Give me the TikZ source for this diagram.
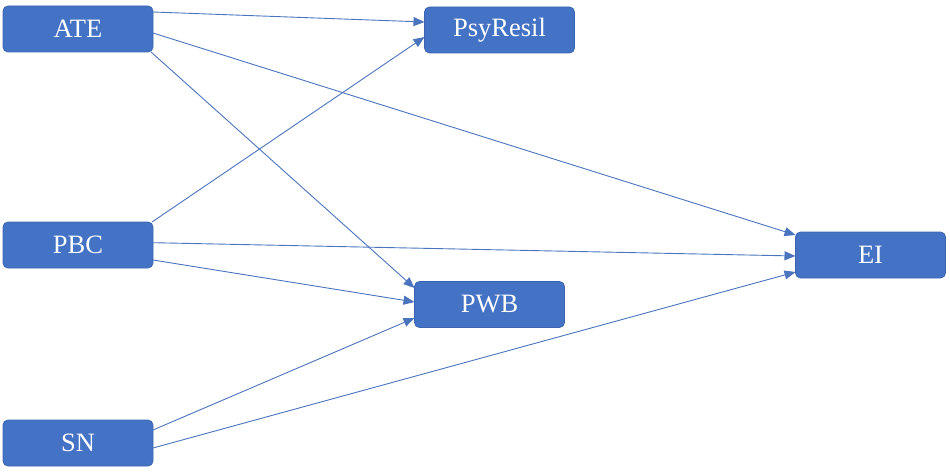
\documentclass[tikz,border=0pt]{standalone}
\usepackage{fontspec}
\setmainfont{Liberation Serif}
\usetikzlibrary{arrows.meta}
\definecolor{boxblue}{HTML}{4472C4}
\definecolor{boxline}{HTML}{3B65B0}
\definecolor{arrowblue}{HTML}{4A74BE}
\tikzset{
  varbox/.style={draw=boxline, line width=0.8pt, fill=boxblue, rounded corners=5pt,
    minimum width=150pt, minimum height=46pt, inner sep=0pt, outer sep=0pt,
    text=white, font=\fontsize{26.5}{30}\selectfont},
  path arrow/.style={draw=arrowblue, line width=0.9pt,
    -{Triangle[length=11pt,width=9pt]}}
}
\begin{document}
\begin{tikzpicture}[x=1pt,y=-1pt]
\path[use as bounding box] (0,0) rectangle (950,476);
\node[varbox] (ATE) at (78,29) {ATE};
\node[varbox] (PsyResil) at (499.5,30) {PsyResil};
\node[varbox] (PBC) at (78,245) {PBC};
\node[varbox] (EI) at (870.5,255) {EI};
\node[varbox] (PWB) at (489.5,304.5) {PWB};
\node[varbox] (SN) at (78,443) {SN};

\draw[path arrow] ([yshift=17pt]ATE.east) -- ([yshift=8pt]PsyResil.west);
\draw[path arrow] ([yshift=-4pt]ATE.east) -- ([yshift=20pt]EI.west);
\draw[path arrow] ([xshift=-2pt]ATE.south east) -- ([yshift=16.5pt]PWB.west);
\draw[path arrow] ([xshift=-1pt]PBC.north east) -- ([yshift=-7pt]PsyResil.west);
\draw[path arrow] ([yshift=2.3pt]PBC.east) -- ([yshift=-1pt]EI.west);
\draw[path arrow] ([yshift=-15pt]PBC.east) -- ([yshift=2.5pt]PWB.west);
\draw[path arrow] ([yshift=13pt]SN.east) -- ([yshift=-13.5pt]PWB.west);
\draw[path arrow] ([yshift=-5pt]SN.east) -- ([yshift=-17pt]EI.west);
\end{tikzpicture}
\end{document}
